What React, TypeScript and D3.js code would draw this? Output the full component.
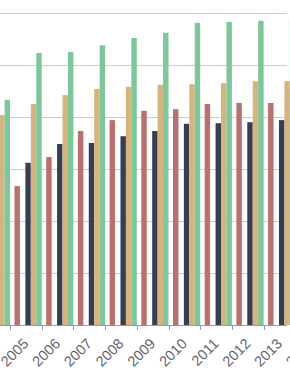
import { useEffect, useRef } from 'react';
import * as d3 from 'd3';

// years on the x axis (2004 and 2014 are only partly in view)
const years = ['2004', '2005', '2006', '2007', '2008', '2009', '2010', '2011', '2012', '2013', '2014'];

// one value per year, null where the bar is outside the visible area
const roseValues = [null, 26.7, 32.3, 37.3, 39.4, 41.2, 41.5, 42.5, 42.7, 42.7, null];
const navyValues = [null, 31.2, 34.8, 35.0, 36.3, 37.3, 38.7, 38.8, 39.0, 39.4, null];
const tanValues = [40.4, 42.5, 44.2, 45.4, 45.8, 46.2, 46.3, 46.5, 46.9, 46.9, null];
const greenValues = [43.3, 52.3, 52.5, 53.8, 55.2, 56.2, 58.1, 58.3, 58.5, 58.7, null];

const yTicks = [0, 10, 20, 30, 40, 50, 60];

const series = [
  { key: 'rose', color: '#b8716f', values: roseValues },
  { key: 'navy', color: '#353e52', values: navyValues },
  { key: 'tan', color: '#d6b480', values: tanValues },
  { key: 'green', color: '#7dc799', values: greenValues },
];

function GroupedBarChart() {
  const svgRef = useRef<SVGSVGElement>(null);

  useEffect(() => {
    const width = 290;
    const height = 376;
    const baseline = 325;
    const top = 13;
    const step = 31.7;
    const start = 10 - step;

    const svg = d3.select(svgRef.current);
    svg.selectAll('*').remove();

    const x0 = d3
      .scaleBand()
      .domain(years)
      .range([start, start + step * years.length])
      .padding(0);

    // slot layout inside a year: rose, empty slot, navy, tan, green
    const x1 = d3
      .scaleBand()
      .domain(['rose', '', 'navy', 'tan', 'green'])
      .range([4.5, 31.7]);

    const y = d3.scaleLinear().domain([0, 60]).range([baseline, top]);

    // grid
    svg
      .append('g')
      .selectAll('line')
      .data(yTicks.slice(1))
      .enter()
      .append('line')
      .attr('x1', 0)
      .attr('x2', 287)
      .attr('y1', d => Math.round(y(d)) + 0.5)
      .attr('y2', d => Math.round(y(d)) + 0.5)
      .attr('stroke', '#cccccc')
      .attr('stroke-width', 1);

    // bars
    series.forEach(s => {
      svg
        .append('g')
        .selectAll('rect')
        .data(years.map((yr, i) => ({ yr, v: s.values[i] })).filter(d => d.v != null))
        .enter()
        .append('rect')
        .attr('x', d => (x0(d.yr) as number) + (x1(s.key) as number))
        .attr('width', x1.bandwidth())
        .attr('y', d => y(d.v as number))
        .attr('height', d => baseline - y(d.v as number))
        .attr('fill', s.color);
    });

    // x axis line + boundary ticks
    svg
      .append('line')
      .attr('x1', 0)
      .attr('x2', 287)
      .attr('y1', baseline + 0.5)
      .attr('y2', baseline + 0.5)
      .attr('stroke', '#9a9a9a');

    svg
      .append('g')
      .selectAll('line')
      .data(years)
      .enter()
      .append('line')
      .attr('x1', d => Math.round(x0(d) as number) + 0.5)
      .attr('x2', d => Math.round(x0(d) as number) + 0.5)
      .attr('y1', baseline)
      .attr('y2', baseline + 5)
      .attr('stroke', '#9a9a9a');

    svg
      .append('g')
      .selectAll('text')
      .data(years)
      .enter()
      .append('text')
      .attr('transform', d => `translate(${(x0(d) as number) + x0.bandwidth() / 2},${baseline + 16}) rotate(-45)`)
      .attr('text-anchor', 'end')
      .attr('dy', '0.35em')
      .attr('font-family', '"Liberation Sans", Arial, sans-serif')
      .attr('font-size', 14.5)
      .attr('fill', '#62646c')
      .text(d => d);

    svg.attr('width', width).attr('height', height);
  }, []);

  return (
    <svg
      ref={svgRef}
      width={290}
      height={376}
      style={{ position: 'absolute', left: 0, top: 0, overflow: 'hidden', background: '#fff' }}
    />
  );
}

export default function App() {
  return <GroupedBarChart />;
}
